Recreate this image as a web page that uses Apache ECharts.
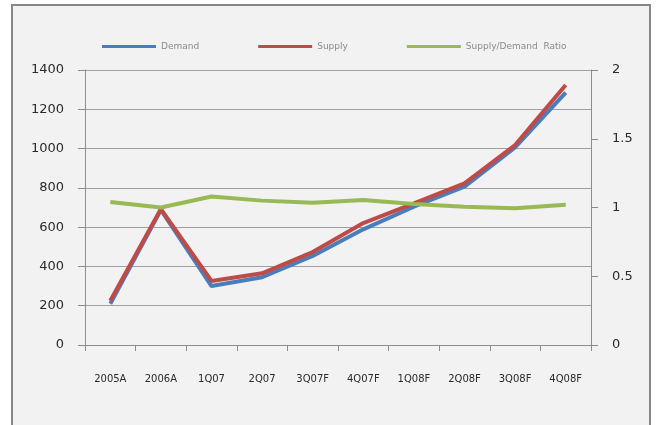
<!DOCTYPE html>
<html>
<head>
<meta charset="utf-8">
<script src="https://cdn.jsdelivr.net/npm/echarts@6/dist/echarts.min.js"></script>
<style>
  html, body { margin: 0; padding: 0; background: #ffffff; }
  #chart { width: 657px; height: 425px; }
</style>
</head>
<body>
<div id="chart"></div>
<script>
// Quarterly market outlook: demand, supply and their ratio
var categories = ['2005A', '2006A', '1Q07', '2Q07', '3Q07F', '4Q07F', '1Q08F', '2Q08F', '3Q08F', '4Q08F'];
var demand = [210, 688, 300, 345, 453, 589, 704, 806, 1006, 1285];
var supply = [225, 692, 326, 365, 473, 621, 721, 823, 1018, 1324];
var ratio = [1.04, 1.0, 1.08, 1.05, 1.035, 1.055, 1.025, 1.005, 0.995, 1.02];
var leftTicks = { min: 0, max: 1400, interval: 200 };
var rightTicks = { min: 0, max: 2, interval: 0.5 };

var labelFont = '"DejaVu Sans", sans-serif';
var chart = echarts.init(document.getElementById('chart'), null, { renderer: 'canvas' });

chart.setOption({
  backgroundColor: '#ffffff',
  animation: false,
  graphic: [{
    type: 'rect',
    z: -10,
    shape: { x: 12, y: 5, width: 638, height: 430 },
    style: { fill: '#f2f2f2', stroke: '#878787', lineWidth: 2 }
  }],
  legend: {
    left: 97,
    top: 37,
    itemWidth: 54,
    itemHeight: 3,
    itemGap: 59,
    icon: 'rect',
    textStyle: { fontFamily: labelFont, fontSize: 9, color: '#8a8a8a' },
    data: ['Demand', 'Supply', 'Supply/Demand  Ratio']
  },
  grid: { left: 85, right: 66, top: 70, bottom: 80, containLabel: false },
  xAxis: {
    type: 'category',
    data: categories,
    boundaryGap: true,
    axisLine: { lineStyle: { color: '#8c8c8c', width: 1 } },
    axisTick: { show: true, length: 6, alignWithLabel: false, lineStyle: { color: '#8c8c8c' } },
    axisLabel: { margin: 29, fontFamily: labelFont, fontSize: 10, color: '#2a2a2a' },
    splitLine: { show: false }
  },
  yAxis: [{
    type: 'value',
    min: leftTicks.min, max: leftTicks.max, interval: leftTicks.interval,
    axisLine: { show: true, lineStyle: { color: '#8c8c8c', width: 1 } },
    axisTick: { show: true, length: 7, lineStyle: { color: '#8c8c8c' } },
    axisLabel: { margin: 21, fontFamily: labelFont, fontSize: 13, color: '#2a2a2a', formatter: function (v) { return String(v); } },
    splitLine: { show: true, lineStyle: { color: '#a0a0a0', width: 1 } }
  }, {
    type: 'value',
    position: 'right',
    min: rightTicks.min, max: rightTicks.max, interval: rightTicks.interval,
    axisLine: { show: true, lineStyle: { color: '#8c8c8c', width: 1 } },
    axisTick: { show: true, length: 7, lineStyle: { color: '#8c8c8c' } },
    axisLabel: { margin: 21, fontFamily: labelFont, fontSize: 13, color: '#2a2a2a', formatter: function (v) { return String(v); } },
    splitLine: { show: false }
  }],
  series: [{
    name: 'Demand',
    type: 'line',
    yAxisIndex: 0,
    data: demand,
    showSymbol: false,
    color: '#4a7ebb',
    lineStyle: { width: 4, color: '#4a7ebb' }
  }, {
    name: 'Supply',
    type: 'line',
    yAxisIndex: 0,
    data: supply,
    showSymbol: false,
    color: '#be4b48',
    lineStyle: { width: 4, color: '#be4b48' }
  }, {
    name: 'Supply/Demand  Ratio',
    type: 'line',
    yAxisIndex: 1,
    data: ratio,
    showSymbol: false,
    color: '#98b954',
    lineStyle: { width: 4, color: '#98b954' }
  }]
});
</script>
</body>
</html>
